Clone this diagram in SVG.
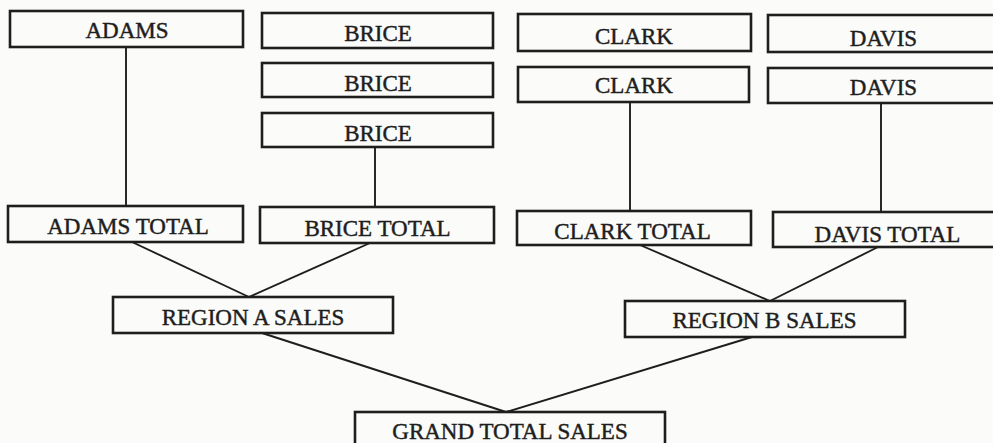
<svg xmlns="http://www.w3.org/2000/svg" width="993" height="443" viewBox="0 0 993 443">
<style>
.box{fill:none;stroke:#1e1e1e;stroke-width:2.6}
.lbl{font-family:"Liberation Serif","Times New Roman",serif;font-size:23px;fill:#1e1e1e;stroke:#1e1e1e;stroke-width:0.45;text-anchor:middle}
.conn line{stroke:#1e1e1e;stroke-width:1.9;fill:none}
</style>
<rect width="993" height="443" fill="#fbfbf9"/>
<g id="connectors" class="conn">
<line x1="126" y1="47" x2="126" y2="206"/>
<line x1="375" y1="147" x2="375" y2="207"/>
<line x1="630" y1="102" x2="630" y2="211"/>
<line x1="881" y1="103" x2="881" y2="212"/>
<line x1="132" y1="242" x2="249" y2="297"/>
<line x1="370" y1="243" x2="249" y2="297"/>
<line x1="640" y1="245" x2="770" y2="301"/>
<line x1="878" y1="247" x2="770" y2="301"/>
<line x1="262" y1="333" x2="506" y2="412"/>
<line x1="752" y1="337" x2="506" y2="412"/>
</g>
<g id="adams"><rect class="box" x="10" y="11" width="233" height="36"/><text class="lbl" x="127" y="37.5">ADAMS</text></g>
<g id="brice1"><rect class="box" x="262" y="13" width="231" height="35"/><text class="lbl" x="378" y="40.5">BRICE</text></g>
<g id="brice2"><rect class="box" x="262" y="63" width="231" height="34"/><text class="lbl" x="378" y="91">BRICE</text></g>
<g id="brice3"><rect class="box" x="262" y="113" width="231" height="34"/><text class="lbl" x="378" y="140.5">BRICE</text></g>
<g id="clark1"><rect class="box" x="518" y="14" width="233" height="37"/><text class="lbl" x="634" y="44">CLARK</text></g>
<g id="clark2"><rect class="box" x="518" y="67" width="231" height="35"/><text class="lbl" x="634" y="93">CLARK</text></g>
<g id="davis1"><rect class="box" x="768" y="15" width="232" height="37"/><text class="lbl" x="883.5" y="45.5">DAVIS</text></g>
<g id="davis2"><rect class="box" x="768" y="68" width="232" height="35"/><text class="lbl" x="883.5" y="95">DAVIS</text></g>
<g id="adams-total"><rect class="box" x="8" y="206" width="235" height="36"/><text class="lbl" x="128" y="234">ADAMS TOTAL</text></g>
<g id="brice-total"><rect class="box" x="260" y="207" width="234" height="36"/><text class="lbl" x="377.5" y="235.5">BRICE TOTAL</text></g>
<g id="clark-total"><rect class="box" x="517" y="211" width="234" height="34"/><text class="lbl" x="632.5" y="239">CLARK TOTAL</text></g>
<g id="davis-total"><rect class="box" x="773" y="212" width="230" height="35"/><text class="lbl" x="887.5" y="241.5">DAVIS TOTAL</text></g>
<g id="region-a"><rect class="box" x="113" y="297" width="280" height="36"/><text class="lbl" x="253" y="325">REGION A SALES</text></g>
<g id="region-b"><rect class="box" x="625" y="301" width="280" height="36"/><text class="lbl" x="764.5" y="328">REGION B SALES</text></g>
<g id="grand-total"><rect class="box" x="355" y="412" width="310" height="40"/><text class="lbl" x="510" y="439">GRAND TOTAL SALES</text></g>
</svg>
